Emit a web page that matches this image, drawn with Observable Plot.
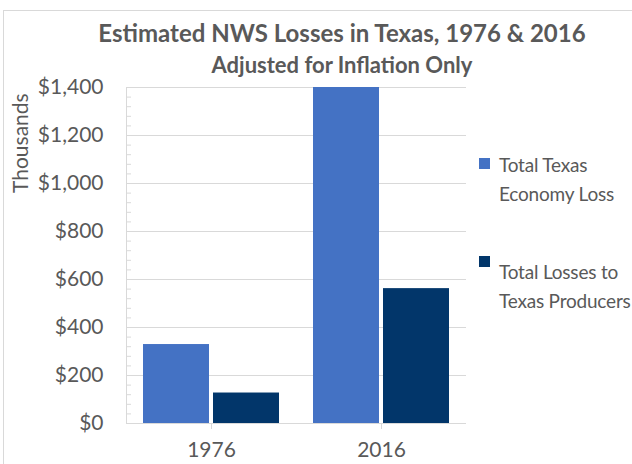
<!DOCTYPE html>
<html>
<head>
<meta charset="utf-8">
<script src="https://cdn.jsdelivr.net/npm/d3@7"></script>
<script src="https://cdn.jsdelivr.net/npm/@observablehq/plot@0.6"></script>
<style>
  html, body { margin: 0; padding: 0; background: #fff; }
  #wrap { position: relative; width: 632px; height: 464px; overflow: hidden; font-family: Lato, "Open Sans", sans-serif; color: #595959; }
  #frame { position: absolute; left: 3px; top: 10px; width: 700px; height: 500px; border: 1px solid #d9d9d9; box-sizing: border-box; }
  #chart { position: absolute; left: 0; top: 0; }
  .t { position: absolute; white-space: nowrap; }
  #title { left: 0; width: 684px; text-align: center; top: 18px; font-size: 24px; line-height: 29px; font-weight: bold; }
  #subtitle { left: 0; width: 684px; text-align: center; top: 51px; font-size: 22px; line-height: 27px; font-weight: bold; }
  #ylab { left: 8px; top: 92px; height: 103px; width: 24px; font-size: 21px; line-height: 24px; writing-mode: vertical-rl; transform: rotate(180deg); text-align: center; }
  .sw { position: absolute; width: 11px; height: 11px; }
  .lg { position: absolute; left: 499px; font-size: 19px; line-height: 29px; letter-spacing: -0.2px; white-space: nowrap; }
</style>
</head>
<body>
<div id="wrap">
  <div id="frame"></div>
  <div id="chart"></div>
  <div class="t" id="title">Estimated NWS Losses in Texas, 1976 &amp; 2016</div>
  <div class="t" id="subtitle">Adjusted for Inflation Only</div>
  <div class="t" id="ylab">Thousands</div>
</div>
<script>
const years = ["1976", "2016"];
const seriesNames = ["Total Texas Economy Loss", "Total Losses to Texas Producers"];
const economyLoss = [329, 1400];
const producerLoss = [127, 562];
const colors = ["#4472C4", "#02366A"];
const yTicks = [0, 200, 400, 600, 800, 1000, 1200, 1400];
const yMinor = d3.range(0, 1401, 40);

const data = [];
years.forEach((y, i) => {
  data.push({year: y, series: seriesNames[0], value: economyLoss[i]});
  data.push({year: y, series: seriesNames[1], value: producerLoss[i]});
});

const grid = "#d9d9d9";
const chart = Plot.plot({
  width: 632,
  height: 464,
  marginLeft: 125,
  marginRight: 166,
  marginTop: 87,
  marginBottom: 41,
  style: {fontFamily: "Lato, 'Open Sans', sans-serif", color: "#595959", background: "transparent", overflow: "visible"},
  fx: {domain: years, padding: 0, label: null, axis: null},
  x: {domain: seriesNames, paddingInner: 0.056, paddingOuter: 0.229, axis: null},
  y: {domain: [0, 1400], label: null},
  color: {domain: seriesNames, range: colors},
  marks: [
    Plot.gridY(yTicks, {stroke: grid, strokeOpacity: 1}),
    Plot.axisY(yMinor, {tickSize: -5, tickFormat: () => "", stroke: grid, strokeOpacity: 1}),
    Plot.frame({anchor: "left", stroke: grid, facetAnchor: "left"}),
    Plot.barY(data, {fx: "year", x: "series", y: "value", fill: "series"}),
    Plot.ruleY([0], {stroke: grid}),
    Plot.axisY(yTicks, {tickSize: 0, tickPadding: 23, fontSize: 21, fill: "#595959",
      tickFormat: d => "$" + d3.format(",")(d), label: null}),
    Plot.axisFx({anchor: "bottom", tickSize: 6, stroke: grid, fontSize: 21, fill: "#595959", tickPadding: 13, label: null})
  ]
});
document.getElementById("chart").appendChild(chart);

const wrap = document.getElementById("wrap");
// legend
const legendLines = [["Total Texas", "Economy Loss"], ["Total Losses to", "Texas Producers"]];
const legTop = [150, 257];
const swTop = [158, 256];
seriesNames.forEach((s, i) => {
  const sw = document.createElement("div");
  sw.className = "sw";
  sw.style.left = "479px";
  sw.style.top = swTop[i] + "px";
  sw.style.background = colors[i];
  wrap.appendChild(sw);
  const lg = document.createElement("div");
  lg.className = "lg";
  lg.style.top = legTop[i] + "px";
  lg.innerHTML = legendLines[i].join("<br>");
  wrap.appendChild(lg);
});
</script>
</body>
</html>
